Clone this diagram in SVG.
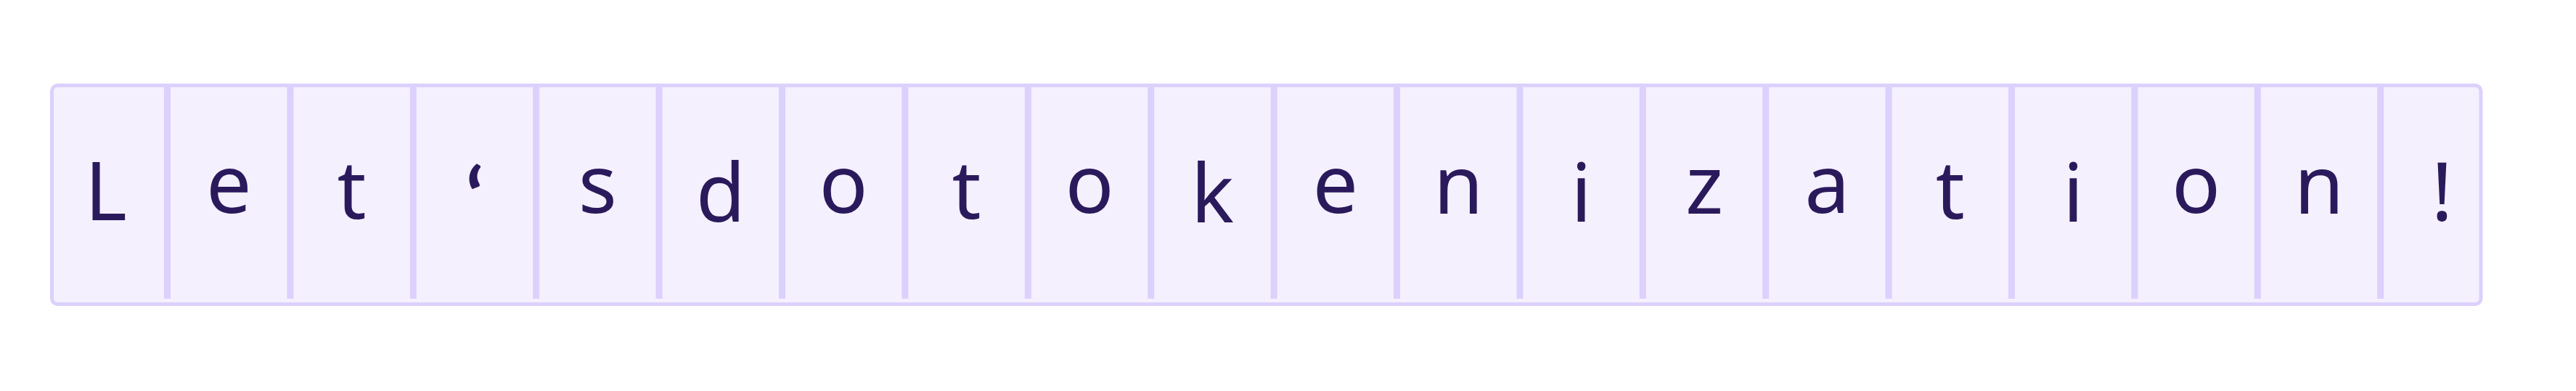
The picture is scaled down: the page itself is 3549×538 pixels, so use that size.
<svg xmlns="http://www.w3.org/2000/svg" width="3549" height="538" viewBox="0 0 3549 538">
<style>
.frame{fill:#f4f0fe;stroke:#dcd0fc;stroke-width:5}
.div{stroke:#dcd0fc;stroke-width:9}
.ch{font-family:"Noto Sans","Open Sans","DejaVu Sans",sans-serif;font-size:111px;fill:#2a1a5c;text-anchor:middle}
.q{font-family:Lato,"Liberation Sans",sans-serif;font-size:112px}
</style>
<rect width="3549" height="538" fill="#ffffff"/>
<g id="frame"><rect class="frame" x="71.5" y="117.5" width="3346.5" height="301" rx="8"/></g>
<g id="dividers">
<line class="div" x1="230.5" y1="119" x2="230.5" y2="411"/>
<line class="div" x1="399.9" y1="119" x2="399.9" y2="411"/>
<line class="div" x1="569.3" y1="119" x2="569.3" y2="411"/>
<line class="div" x1="738.7" y1="119" x2="738.7" y2="411"/>
<line class="div" x1="908.1" y1="119" x2="908.1" y2="411"/>
<line class="div" x1="1077.5" y1="119" x2="1077.5" y2="411"/>
<line class="div" x1="1246.9" y1="119" x2="1246.9" y2="411"/>
<line class="div" x1="1416.3" y1="119" x2="1416.3" y2="411"/>
<line class="div" x1="1585.7" y1="119" x2="1585.7" y2="411"/>
<line class="div" x1="1755.1" y1="119" x2="1755.1" y2="411"/>
<line class="div" x1="1924.5" y1="119" x2="1924.5" y2="411"/>
<line class="div" x1="2093.9" y1="119" x2="2093.9" y2="411"/>
<line class="div" x1="2263.3" y1="119" x2="2263.3" y2="411"/>
<line class="div" x1="2432.7" y1="119" x2="2432.7" y2="411"/>
<line class="div" x1="2602.1" y1="119" x2="2602.1" y2="411"/>
<line class="div" x1="2771.5" y1="119" x2="2771.5" y2="411"/>
<line class="div" x1="2940.9" y1="119" x2="2940.9" y2="411"/>
<line class="div" x1="3110.3" y1="119" x2="3110.3" y2="411"/>
<line class="div" x1="3279.7" y1="119" x2="3279.7" y2="411"/>
</g>
<g id="cell-0"><text class="ch" x="145.8" y="303">L</text></g>
<g id="cell-1"><text class="ch" x="315.2" y="293">e</text></g>
<g id="cell-2"><text class="ch" x="484.6" y="301">t</text></g>
<g id="cell-3"><text class="ch q" x="654" y="312" font-weight="700">‘</text></g>
<g id="cell-4"><text class="ch" x="823.4" y="293">s</text></g>
<g id="cell-5"><text class="ch" x="992.8" y="305">d</text></g>
<g id="cell-6"><text class="ch" x="1162.2" y="293">o</text></g>
<g id="cell-7"><text class="ch" x="1331.6" y="301">t</text></g>
<g id="cell-8"><text class="ch" x="1501" y="293">o</text></g>
<g id="cell-9"><text class="ch" x="1670.4" y="305.5">k</text></g>
<g id="cell-10"><text class="ch" x="1839.8" y="293">e</text></g>
<g id="cell-11"><text class="ch" x="2009.2" y="294">n</text></g>
<g id="cell-12"><text class="ch" x="2178.6" y="305">i</text></g>
<g id="cell-13"><text class="ch" x="2348" y="294">z</text></g>
<g id="cell-14"><text class="ch" x="2517.4" y="293">a</text></g>
<g id="cell-15"><text class="ch" x="2686.8" y="301">t</text></g>
<g id="cell-16"><text class="ch" x="2856.2" y="305">i</text></g>
<g id="cell-17"><text class="ch" x="3025.6" y="293">o</text></g>
<g id="cell-18"><text class="ch" x="3195" y="294">n</text></g>
<g id="cell-19"><text class="ch" x="3364.4" y="303">!</text></g>
</svg>
